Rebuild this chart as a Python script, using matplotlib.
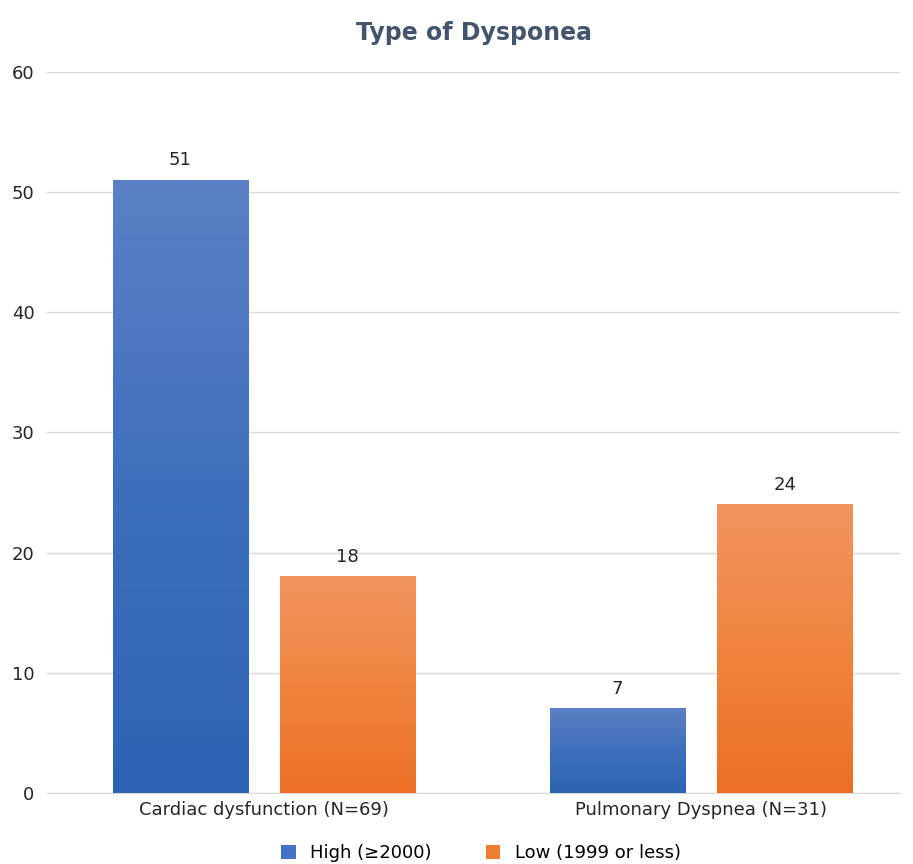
import numpy as np
import matplotlib.pyplot as plt
from matplotlib.colors import LinearSegmentedColormap

categories = ['Cardiac dysfunction (N=69)', 'Pulmonary Dyspnea (N=31)']
high = [51, 7]
low = [18, 24]
series_names = ['High (\u22652000)', 'Low (1999 or less)']

plt.rcParams['font.family'] = ['DejaVu Sans']

fig = plt.figure(figsize=(9.13, 8.64), dpi=100)
ax = fig.add_axes([0.0515, 0.0822, 0.9345, 0.8345])

x = np.arange(len(categories))
w = 0.309
off = 0.1915
blue_cmap = LinearSegmentedColormap.from_list('b', ['#2d63b3', '#3f6fbc', '#5b80c5'])
orange_cmap = LinearSegmentedColormap.from_list('o', ['#ec6f25', '#f0843f', '#f29460'])

b1 = ax.bar(x - off, high, w, color='#4472c4', label=series_names[0], zorder=2)
b2 = ax.bar(x + off, low, w, color='#ed7d31', label=series_names[1], zorder=2)

grad = np.linspace(0, 1, 256).reshape(-1, 1)
for bars, cmap in [(b1, blue_cmap), (b2, orange_cmap)]:
    for p in bars:
        x0, h = p.get_x(), p.get_height()
        ax.imshow(grad, cmap=cmap, origin='lower', aspect='auto',
                  extent=[x0, x0 + p.get_width(), 0, h], zorder=3)
    for p in bars:
        ax.text(p.get_x() + p.get_width() / 2, p.get_height() + 0.9,
                f'{int(p.get_height())}', ha='center', va='bottom',
                fontsize=13, color='#262626', zorder=4)

ax.set_xlim(-0.4966, 1.455)
ax.set_ylim(0, 60)
ax.set_yticks(range(0, 61, 10))
ax.set_xticks(x)
ax.set_xticklabels(categories, fontsize=13, color='#262626')
ax.tick_params(axis='y', labelsize=13, labelcolor='#262626', length=0, pad=9)
ax.tick_params(axis='x', length=0, pad=6)
ax.grid(axis='y', color='#d9d9d9', linewidth=1, zorder=0)
for s in ['top', 'right', 'left']:
    ax.spines[s].set_visible(False)
ax.spines['bottom'].set_color('#d9d9d9')

ax.set_title('Type of Dysponea', fontsize=17, fontweight='bold',
             color='#44546a', pad=23)

fig.legend(handles=[b1, b2], labels=series_names, loc='lower center',
           bbox_to_anchor=(0.527, -0.017), ncol=2, frameon=False,
           fontsize=13, handlelength=0.8, handleheight=0.8,
           columnspacing=3.0, handletextpad=0.8)

fig.savefig('out.png', dpi=100)
